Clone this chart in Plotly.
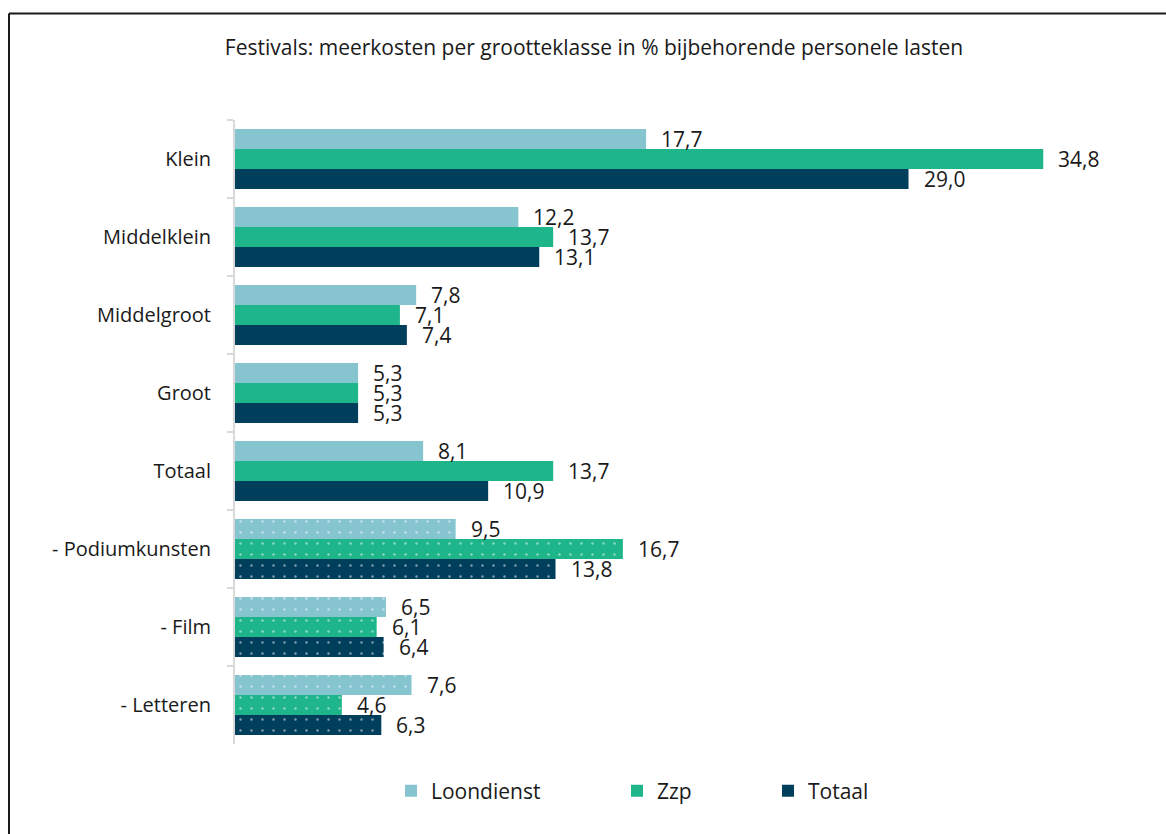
import plotly.graph_objects as go

# Size classes and disciplines (top to bottom)
categories = ["Klein", "Middelklein", "Middelgroot", "Groot", "Totaal",
              "- Podiumkunsten", "- Film", "- Letteren"]

# Extra costs as % of the related personnel costs
loondienst = [17.7, 12.2, 7.8, 5.3, 8.1, 9.5, 6.5, 7.6]
zzp = [34.8, 13.7, 7.1, 5.3, 13.7, 16.7, 6.1, 4.6]
totaal = [29.0, 13.1, 7.4, 5.3, 10.9, 13.8, 6.4, 6.3]

series_names = ["Loondienst", "Zzp", "Totaal"]
series_values = [loondienst, zzp, totaal]
colors = ["#86C5CF", "#1DB589", "#003F5B"]

# Disciplines get a dotted fill, size classes are solid
shapes_per_cat = ["", "", "", "", "", ".", ".", "."]

FONT = "'Open Sans', 'Noto Sans', sans-serif"
TXT = "#1a1a1a"

L, R, T, B = 235, 2, 120, 90
W, H = 1166, 834
plot_w = W - L - R
plot_h = H - T - B

fig = go.Figure()
legend_ids = ["legend", "legend2", "legend3"]
for name, vals, col, lg in zip(series_names, series_values, colors, legend_ids):
    fig.add_trace(go.Bar(
        y=categories, x=vals, name=name, orientation="h",
        marker=dict(color=col, line=dict(width=0),
                    pattern=dict(shape=shapes_per_cat, fgcolor="white",
                                 size=11, solidity=0.04, fillmode="overlay")),
        legend=lg, hoverinfo="x+name",
    ))

# Value labels just past the end of each bar
shifts = [20, 0, -20]
annotations = []
for vals, ys in zip(series_values, shifts):
    for cat, v in zip(categories, vals):
        annotations.append(dict(
            x=v, y=cat, xref="x", yref="y",
            text=f"{v:.1f}".replace(".", ","),
            showarrow=False, xanchor="left", yanchor="middle",
            xshift=13, yshift=ys,
            font=dict(family=FONT, size=21, color=TXT),
        ))

def px_x(p):
    return (p - L) / plot_w

def px_y(p):
    return (H - B - p) / plot_h

# Frame around the chart
frame = dict(type="line", xref="paper", yref="paper",
             line=dict(color="#1a1a1a", width=2))
shapes = [
    dict(frame, x0=px_x(9), x1=px_x(1200), y0=px_y(13.5), y1=px_y(13.5)),
    dict(frame, x0=px_x(9), x1=px_x(9), y0=px_y(13.5), y1=px_y(900)),
]

legend_style = dict(orientation="h", yanchor="middle", xanchor="left",
                    y=px_y(791), font=dict(family=FONT, size=21, color=TXT),
                    bgcolor="rgba(0,0,0,0)", itemsizing="constant")

fig.update_layout(
    width=W, height=H,
    margin=dict(l=L, r=R, t=T, b=B),
    paper_bgcolor="white", plot_bgcolor="white",
    barmode="group", bargap=0.23, bargroupgap=0,
    title=dict(text="Festivals: meerkosten per grootteklasse in % bijbehorende personele lasten",
               x=594 / W, xanchor="center", y=1 - 48 / H, yanchor="middle",
               font=dict(family=FONT, size=21, color=TXT)),
    xaxis=dict(range=[0, 40], visible=False, fixedrange=True),
    yaxis=dict(autorange="reversed", showline=True, linecolor="#d9d9d9",
               linewidth=2, ticks="outside", tickson="boundaries",
               ticklen=6, tickcolor="#d9d9d9", tickwidth=2,
               ticklabelstandoff=18, showgrid=False, zeroline=False,
               tickfont=dict(family=FONT, size=20, color=TXT)),
    legend=dict(legend_style, x=px_x(391)),
    legend2=dict(legend_style, x=px_x(617)),
    legend3=dict(legend_style, x=px_x(768)),
    annotations=annotations,
    shapes=shapes,
    showlegend=True,
)

fig.write_html("out.html")
